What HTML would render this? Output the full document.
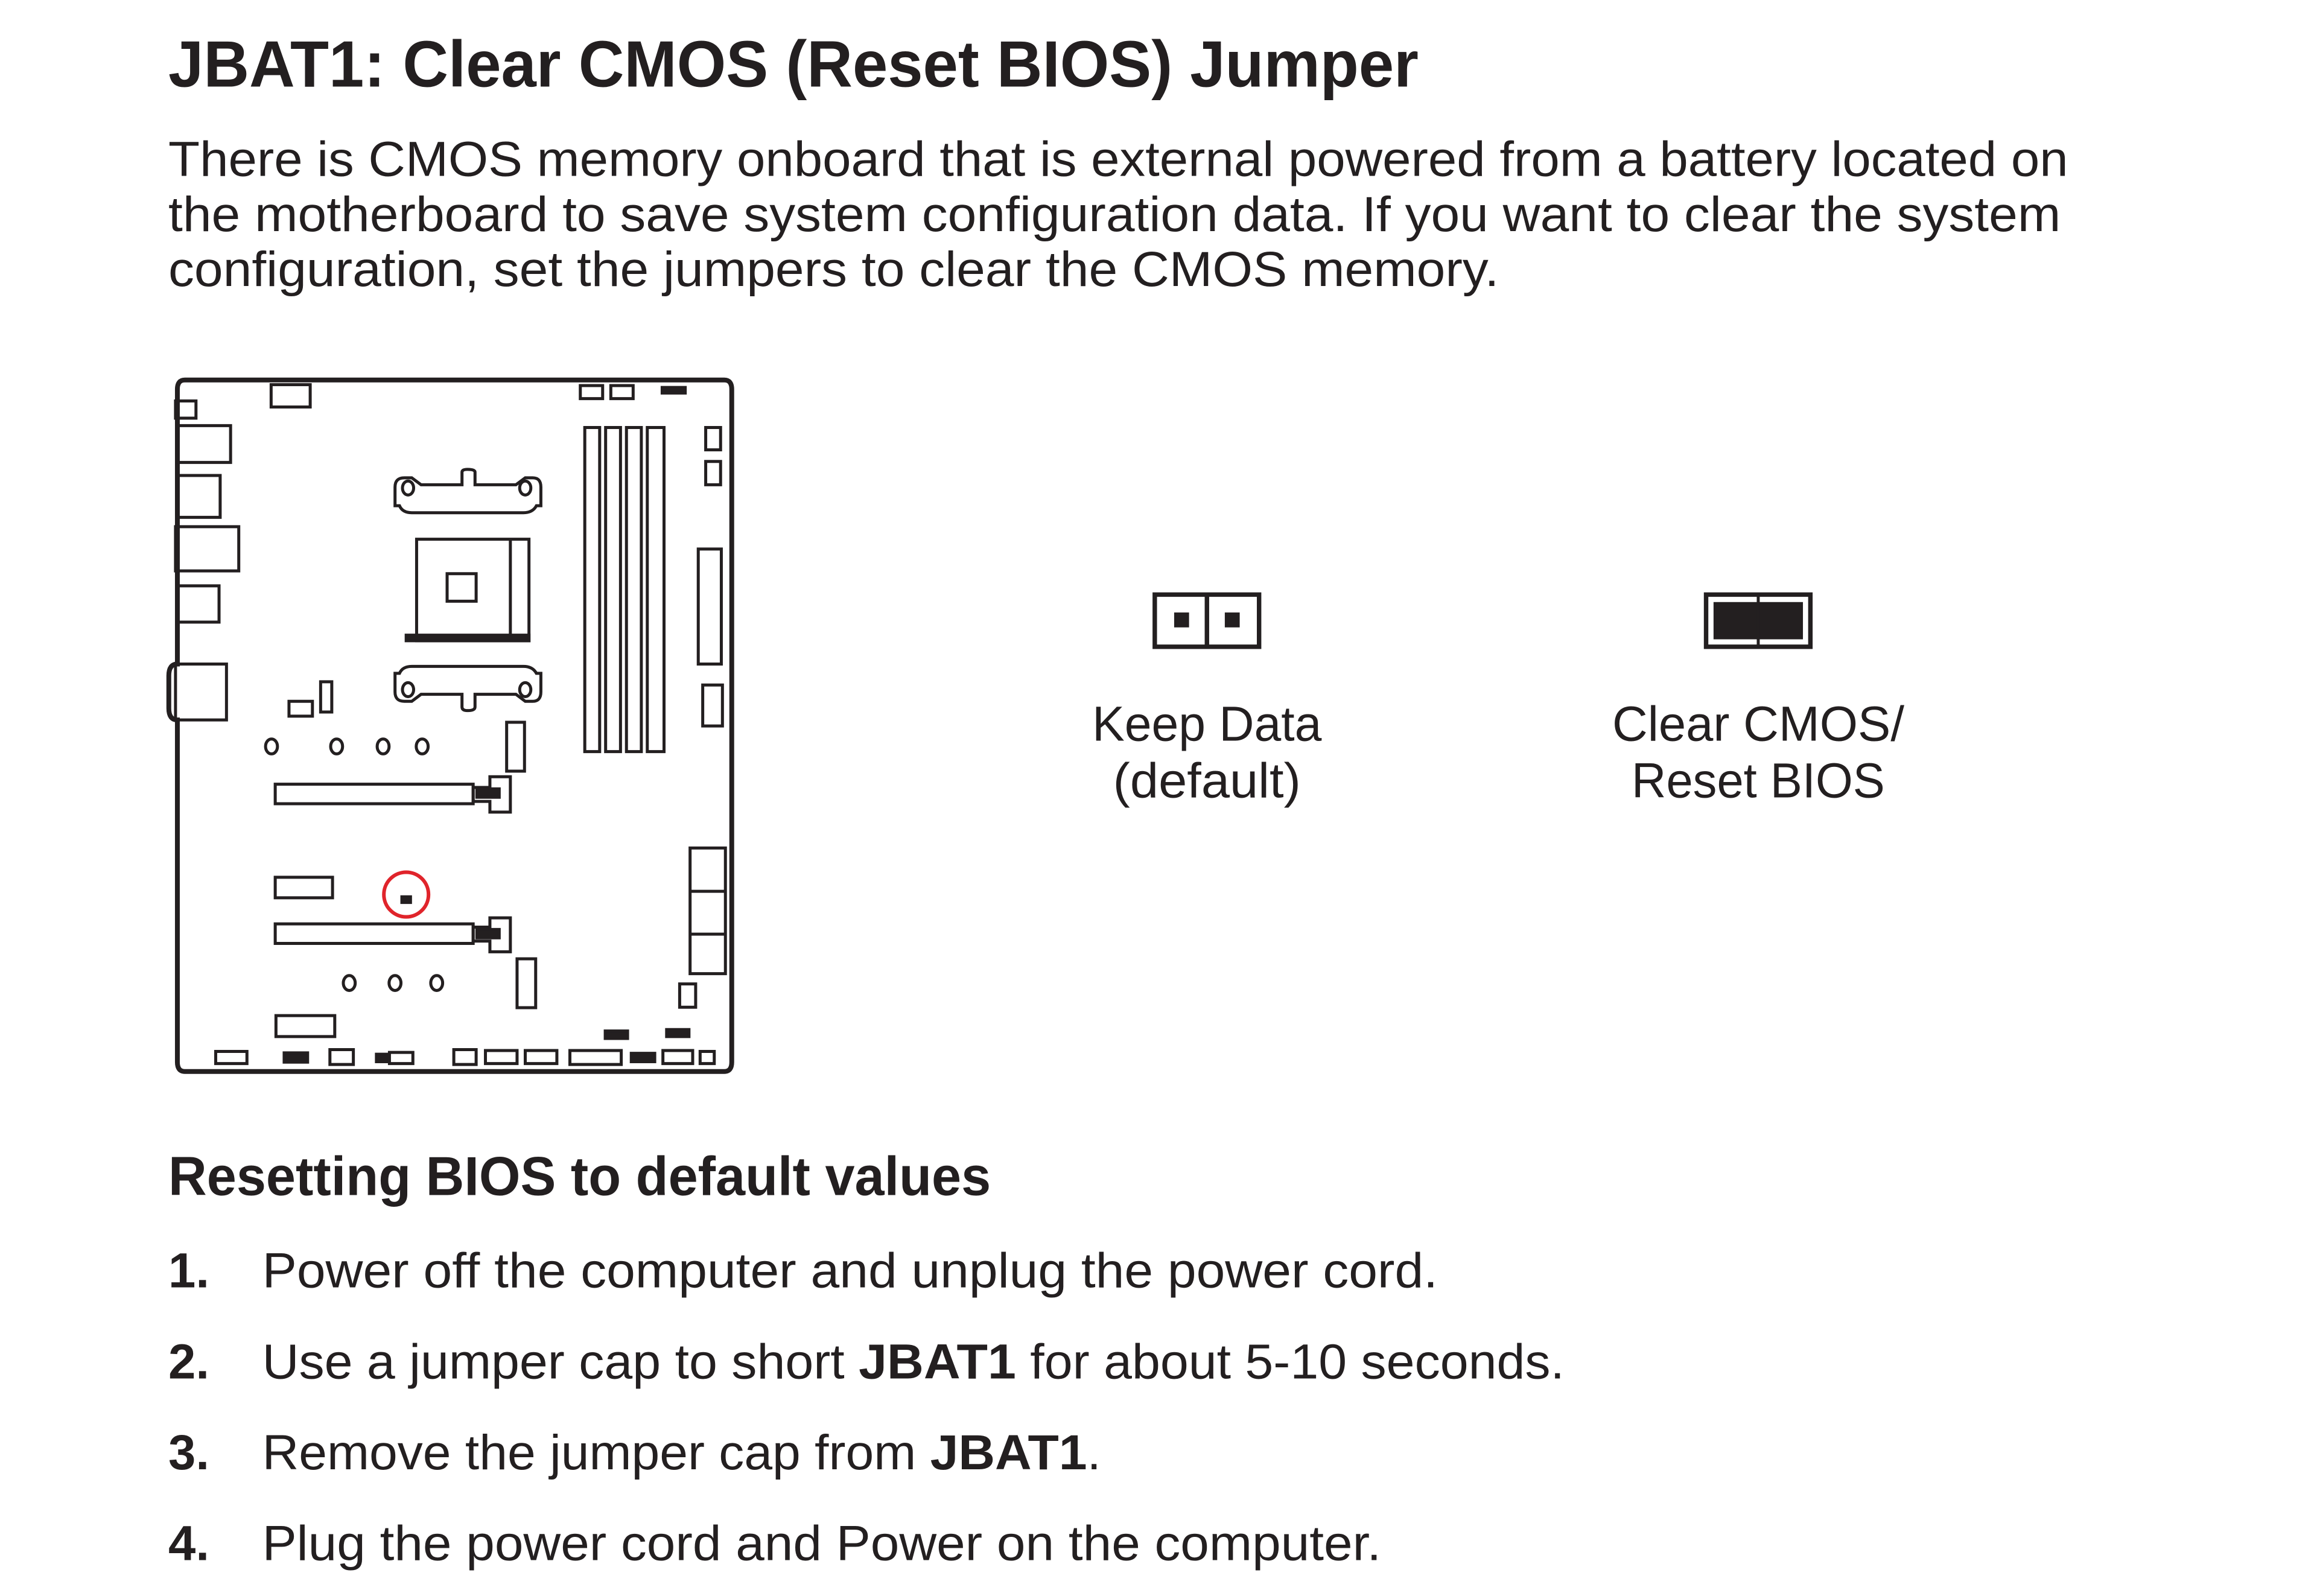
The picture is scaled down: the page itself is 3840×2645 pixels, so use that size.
<!DOCTYPE html>
<html><head><meta charset="utf-8"><style>
html,body{margin:0;padding:0;background:#fff;}
svg{display:block;}
text{font-family:"Liberation Sans",sans-serif;fill:#231f20;}
</style></head><body>
<svg width="3840" height="2645" viewBox="0 0 1555 1071" xmlns="http://www.w3.org/2000/svg">
<rect width="1555" height="1071" fill="#fff"/>
<text x="113" y="58" font-size="44" font-weight="bold" textLength="839" lengthAdjust="spacingAndGlyphs">JBAT1: Clear CMOS (Reset BIOS) Jumper</text>
<text x="113" y="118" font-size="33" textLength="1275" lengthAdjust="spacingAndGlyphs">There is CMOS memory onboard that is external powered from a battery located on</text>
<text x="113" y="155" font-size="33" textLength="1270" lengthAdjust="spacingAndGlyphs">the motherboard to save system configuration data. If you want to clear the system</text>
<text x="113" y="192" font-size="33" textLength="893" lengthAdjust="spacingAndGlyphs">configuration, set the jumpers to clear the CMOS memory.</text>

<rect x="775" y="399" width="70" height="35" fill="none" stroke="#231f20" stroke-width="3"/>
<line x1="810" y1="399" x2="810" y2="434" stroke="#231f20" stroke-width="3"/>
<rect x="788" y="411" width="10" height="10" fill="#231f20"/>
<rect x="822" y="411" width="10" height="10" fill="#231f20"/>
<rect x="1145" y="399" width="70" height="35" fill="none" stroke="#231f20" stroke-width="3"/>
<rect x="1150" y="404" width="60" height="25" fill="#231f20"/>
<line x1="1180" y1="399" x2="1180" y2="434" stroke="#231f20" stroke-width="2"/>
<text x="810" y="497" font-size="33" text-anchor="middle" textLength="154" lengthAdjust="spacingAndGlyphs">Keep Data</text>
<text x="810" y="535" font-size="33" text-anchor="middle" textLength="126" lengthAdjust="spacingAndGlyphs">(default)</text>
<text x="1180" y="497" font-size="33" text-anchor="middle" textLength="196" lengthAdjust="spacingAndGlyphs">Clear CMOS/</text>
<text x="1180" y="535" font-size="33" text-anchor="middle" textLength="170" lengthAdjust="spacingAndGlyphs">Reset BIOS</text>

<text x="113" y="802" font-size="37" font-weight="bold" textLength="552" lengthAdjust="spacingAndGlyphs">Resetting BIOS to default values</text>
<g font-size="33">
<text x="113" y="864" font-weight="bold">1.</text>
<text x="176" y="864" textLength="789" lengthAdjust="spacingAndGlyphs">Power off the computer and unplug the power cord.</text>
<text x="113" y="925" font-weight="bold">2.</text>
<text x="176" y="925" textLength="874" lengthAdjust="spacingAndGlyphs">Use a jumper cap to short <tspan font-weight="bold">JBAT1</tspan> for about 5-10 seconds.</text>
<text x="113" y="986" font-weight="bold">3.</text>
<text x="176" y="986" textLength="563" lengthAdjust="spacingAndGlyphs">Remove the jumper cap from <tspan font-weight="bold">JBAT1</tspan>.</text>
<text x="113" y="1047" font-weight="bold">4.</text>
<text x="176" y="1047" textLength="751" lengthAdjust="spacingAndGlyphs">Plug the power cord and Power on the computer.</text>
</g>

<g transform="translate(110.3,245.6) scale(0.2497,0.3125)" fill="none" stroke="#231f20" stroke-width="5" vector-effect="non-scaling-stroke">
<g vector-effect="non-scaling-stroke">
<path vector-effect="non-scaling-stroke" stroke-width="8" d="M55 30 H1505 Q1525 30 1525 50 V1495 Q1525 1515 1505 1515 H55 Q35 1515 35 1495 V760 Q12 760 12 735 V665 Q12 640 35 640 V50 Q35 30 55 30 Z"/>
<rect vector-effect="non-scaling-stroke" x="287" y="40" width="105" height="48"/>
<rect vector-effect="non-scaling-stroke" x="1118" y="42" width="60" height="28"/>
<rect vector-effect="non-scaling-stroke" x="1200" y="42" width="60" height="28"/>
<rect vector-effect="non-scaling-stroke" x="1338" y="46" width="62" height="12" fill="#231f20"/>
<rect vector-effect="non-scaling-stroke" x="30" y="75" width="55" height="37"/>
<rect vector-effect="non-scaling-stroke" x="35" y="128" width="143" height="79"/>
<rect vector-effect="non-scaling-stroke" x="35" y="235" width="115" height="90"/>
<rect vector-effect="non-scaling-stroke" x="30" y="345" width="170" height="95"/>
<rect vector-effect="non-scaling-stroke" x="35" y="472" width="112" height="78"/>
<rect vector-effect="non-scaling-stroke" x="30" y="640" width="137" height="120"/>
<path vector-effect="non-scaling-stroke" d="M620 300 V260 Q620 240 645 240 H665 L690 255 H800 V228 Q800 222 815 222 Q835 222 835 228 V255 H945 L970 240 H990 Q1012 240 1012 260 V300 H1000 Q990 315 965 315 H665 Q640 315 632 300 Z"/>
<circle vector-effect="non-scaling-stroke" cx="655" cy="262" r="15"/><circle vector-effect="non-scaling-stroke" cx="970" cy="262" r="15"/>
<rect vector-effect="non-scaling-stroke" x="678" y="372" width="302" height="218"/>
<line vector-effect="non-scaling-stroke" x1="930" y1="372" x2="930" y2="580"/>
<rect vector-effect="non-scaling-stroke" x="650" y="578" width="330" height="12" fill="#231f20"/>
<rect vector-effect="non-scaling-stroke" x="760" y="446" width="78" height="59"/>
<path vector-effect="non-scaling-stroke" d="M620 660 V700 Q620 720 645 720 H665 L690 705 H800 V732 Q800 740 815 740 Q835 740 835 732 V705 H945 L970 720 H990 Q1012 720 1012 700 V660 H1000 Q990 645 965 645 H665 Q640 645 632 660 Z"/>
<circle vector-effect="non-scaling-stroke" cx="655" cy="695" r="15"/><circle vector-effect="non-scaling-stroke" cx="970" cy="695" r="15"/>
<rect vector-effect="non-scaling-stroke" x="1130" y="132" width="40" height="696"/>
<rect vector-effect="non-scaling-stroke" x="1186" y="132" width="40" height="696"/>
<rect vector-effect="non-scaling-stroke" x="1242" y="132" width="40" height="696"/>
<rect vector-effect="non-scaling-stroke" x="1298" y="132" width="45" height="696"/>
<rect vector-effect="non-scaling-stroke" x="1455" y="132" width="40" height="48"/>
<rect vector-effect="non-scaling-stroke" x="1455" y="205" width="40" height="50"/>
<rect vector-effect="non-scaling-stroke" x="1435" y="393" width="62" height="247"/>
<rect vector-effect="non-scaling-stroke" x="1447" y="685" width="53" height="88"/>
<rect vector-effect="non-scaling-stroke" x="335" y="720" width="63" height="32"/>
<rect vector-effect="non-scaling-stroke" x="420" y="678" width="30" height="65"/>
<circle vector-effect="non-scaling-stroke" cx="288" cy="817" r="16"/><circle vector-effect="non-scaling-stroke" cx="463" cy="817" r="16"/><circle vector-effect="non-scaling-stroke" cx="588" cy="817" r="16"/><circle vector-effect="non-scaling-stroke" cx="693" cy="817" r="16"/>
<rect vector-effect="non-scaling-stroke" x="920" y="765" width="48" height="105"/>
<rect vector-effect="non-scaling-stroke" x="298" y="898" width="532" height="42"/>
<path vector-effect="non-scaling-stroke" d="M830 905 H875 V882 H930 V958 H875 V935 H830 Z"/>
<rect vector-effect="non-scaling-stroke" x="840" y="908" width="60" height="18" fill="#231f20"/>
<rect vector-effect="non-scaling-stroke" x="1413" y="1035" width="95" height="270"/>
<line vector-effect="non-scaling-stroke" x1="1413" y1="1128" x2="1508" y2="1128"/>
<line vector-effect="non-scaling-stroke" x1="1413" y1="1220" x2="1508" y2="1220"/>
<rect vector-effect="non-scaling-stroke" x="298" y="1098" width="154" height="44"/>
<ellipse vector-effect="non-scaling-stroke" cx="650" cy="1135" rx="60" ry="48" stroke="#e0242b" stroke-width="6"/>
<rect vector-effect="non-scaling-stroke" x="636" y="1138" width="28" height="16" fill="#231f20" stroke-width="2"/>
<rect vector-effect="non-scaling-stroke" x="298" y="1198" width="532" height="42"/>
<path vector-effect="non-scaling-stroke" d="M830 1205 H875 V1185 H930 V1258 H875 V1235 H830 Z"/>
<rect vector-effect="non-scaling-stroke" x="840" y="1210" width="60" height="18" fill="#231f20"/>
<rect vector-effect="non-scaling-stroke" x="948" y="1273" width="50" height="105"/>
<rect vector-effect="non-scaling-stroke" x="1385" y="1327" width="43" height="50"/>
<circle vector-effect="non-scaling-stroke" cx="497" cy="1325" r="16"/><circle vector-effect="non-scaling-stroke" cx="620" cy="1325" r="16"/><circle vector-effect="non-scaling-stroke" cx="732" cy="1325" r="16"/>
<rect vector-effect="non-scaling-stroke" x="300" y="1395" width="158" height="45"/>
<rect vector-effect="non-scaling-stroke" x="1185" y="1428" width="60" height="16" fill="#231f20"/>
<rect vector-effect="non-scaling-stroke" x="1350" y="1425" width="60" height="15" fill="#231f20"/>
<rect vector-effect="non-scaling-stroke" x="138" y="1472" width="84" height="26"/>
<rect vector-effect="non-scaling-stroke" x="322" y="1475" width="63" height="20" fill="#231f20"/>
<rect vector-effect="non-scaling-stroke" x="445" y="1468" width="63" height="32"/>
<rect vector-effect="non-scaling-stroke" x="570" y="1478" width="30" height="16" fill="#231f20"/>
<rect vector-effect="non-scaling-stroke" x="605" y="1474" width="63" height="24"/>
<rect vector-effect="non-scaling-stroke" x="778" y="1468" width="60" height="32"/>
<rect vector-effect="non-scaling-stroke" x="863" y="1470" width="85" height="28"/>
<rect vector-effect="non-scaling-stroke" x="970" y="1470" width="85" height="28"/>
<rect vector-effect="non-scaling-stroke" x="1090" y="1470" width="138" height="30"/>
<rect vector-effect="non-scaling-stroke" x="1255" y="1476" width="63" height="18" fill="#231f20"/>
<rect vector-effect="non-scaling-stroke" x="1340" y="1470" width="80" height="28"/>
<rect vector-effect="non-scaling-stroke" x="1440" y="1472" width="38" height="26"/>
</g>
</g>
</svg>
</body></html>
